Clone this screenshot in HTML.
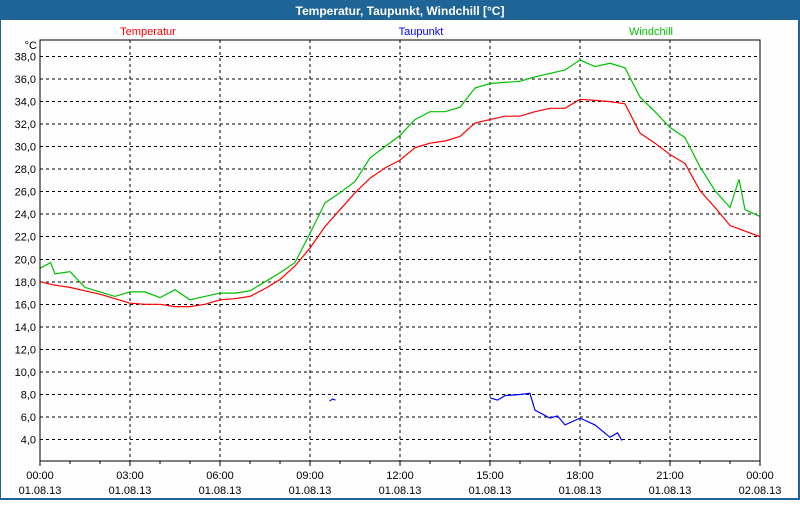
<!DOCTYPE html>
<html><head><meta charset="utf-8"><style>
body{margin:0;width:800px;height:500px;overflow:hidden;background:#fff;font-family:"Liberation Sans",sans-serif}
</style></head><body>
<svg id="c" width="800" height="500" xmlns="http://www.w3.org/2000/svg">
<rect x="0" y="0" width="800" height="500" fill="#1f6496"/>
<rect x="1" y="20" width="797" height="478" fill="#fdfefd"/>
<text x="400" y="15" text-anchor="middle" fill="#fff" font-weight="bold" font-size="12">Temperatur, Taupunkt, Windchill [°C]</text>
<text x="148" y="35" text-anchor="middle" fill="#ff0000" font-size="11">Temperatur</text>
<text x="421" y="35" text-anchor="middle" fill="#0000ff" font-size="11">Taupunkt</text>
<text x="651" y="35" text-anchor="middle" fill="#00c000" font-size="11">Windchill</text>
<text x="37" y="49" text-anchor="end" fill="#000" font-size="11">°C</text>
<g id="grid"></g><g id="series"></g><g id="axes"></g>
</svg>
<script>
const hours = [0,0.5,1,1.5,2,2.5,3,3.5,4,4.5,5,5.5,6,6.5,7,7.5,8,8.5,9,9.5,10,10.5,11,11.5,12,12.5,13,13.5,14,14.5,15,15.5,16,16.5,17,17.5,18,18.5,19,19.5,20,20.5,21,21.5,22,22.5,23,23.5,24];
const temperatur = [18.0,17.7,17.5,17.2,16.9,16.5,16.1,16.0,16.0,15.8,15.8,16.0,16.4,16.5,16.7,17.4,18.2,19.4,21.0,22.9,24.4,25.9,27.2,28.1,28.8,29.9,30.3,30.5,30.9,32.1,32.4,32.7,32.7,33.1,33.4,33.4,34.2,34.1,34.0,33.8,31.2,30.3,29.3,28.5,26.1,24.6,23.0,22.5,22.0];
const windchillHours = [0,0.35,0.5,1,1.5,2,2.5,3,3.5,4,4.5,5,5.5,6,6.5,7,7.5,8,8.5,9,9.5,10,10.5,11,11.5,12,12.5,13,13.5,14,14.5,15,15.5,16,16.5,17,17.5,18,18.5,19,19.5,20,20.5,21,21.5,22,22.5,23,23.3,23.5,24];
const windchill = [19.2,19.7,18.7,18.9,17.5,17.1,16.7,17.1,17.1,16.6,17.3,16.4,16.7,17.0,17.0,17.2,18.0,18.8,19.7,22.3,25.0,25.9,26.9,29.0,30.0,31.0,32.4,33.1,33.1,33.5,35.2,35.6,35.7,35.8,36.2,36.5,36.8,37.7,37.1,37.4,37.0,34.4,33.1,31.7,30.8,28.2,26.1,24.6,27.1,24.4,23.8];
const taupunktHours = [9.65,9.75,9.85,null,15.0,15.25,15.5,16.0,16.33,16.5,17.0,17.25,17.5,18.0,18.5,19.0,19.25,19.4];
const taupunkt = [7.4,7.6,7.5,null,7.7,7.5,7.9,8.0,8.1,6.6,5.9,6.1,5.3,5.9,5.3,4.2,4.6,3.9];
const yTicks = [38,36,34,32,30,28,26,24,22,20,18,16,14,12,10,8,6,4];
const xTickHours = [0,3,6,9,12,15,18,21,24];
const xTickTimes = ["00:00","03:00","06:00","09:00","12:00","15:00","18:00","21:00","00:00"];
const xTickDates = ["01.08.13","01.08.13","01.08.13","01.08.13","01.08.13","01.08.13","01.08.13","01.08.13","02.08.13"];

const L=40,R=760,T=40,B=461;
const X=h=>L+(R-L)*h/24;
const Y=v=>56.5+(38-v)*11.265;
const NS="http://www.w3.org/2000/svg";
function mk(tag,attrs,parent){const e=document.createElementNS(NS,tag);for(const k in attrs)e.setAttribute(k,attrs[k]);parent.appendChild(e);return e;}
const grid=document.getElementById('grid'),series=document.getElementById('series'),axes=document.getElementById('axes');
yTicks.forEach(v=>{
  const l=mk('line',{x1:L,x2:R,y1:Y(v),y2:Y(v),stroke:'#000','stroke-dasharray':'3,3','shape-rendering':'crispEdges'},grid);
  
  
  const t=mk('text',{x:36,y:Y(v)+4,'text-anchor':'end','font-size':11,fill:'#000'},axes);
  t.textContent=v.toFixed(1).replace('.',',');
  
  
});
xTickHours.forEach((h,i)=>{
  if(h>0&&h<24){const l=mk('line',{x1:X(h),x2:X(h),y1:T,y2:B,stroke:'#000','stroke-dasharray':'3,3','shape-rendering':'crispEdges'},grid);
  
  }
  const t1=mk('text',{x:X(h),y:479,'text-anchor':'middle','font-size':11,fill:'#000'},axes);
  t1.textContent=xTickTimes[i];
  
  
  const t2=mk('text',{x:X(h),y:494,'text-anchor':'middle','font-size':11,fill:'#000'},axes);
  t2.textContent=xTickDates[i];
  
  
});
for(let h=0;h<=24;h++){const tk=mk('line',{x1:X(h),x2:X(h),y1:B,y2:B+(h%3==0?5:3),stroke:'#000','shape-rendering':'crispEdges'},axes);
  
  }
const border=mk('rect',{x:L,y:T,width:R-L,height:B-T,fill:'none',stroke:'#000','shape-rendering':'crispEdges'},axes);


function line(hs,vs,color,name){
  let d='',pen=false;
  hs.forEach((h,i)=>{if(h===null||vs[i]===null){pen=false;return;}d+=(pen?'L':'M')+X(h).toFixed(1)+' '+Y(vs[i]).toFixed(1)+' ';pen=true;});
  const p=mk('path',{d:d,fill:'none',stroke:color,'stroke-width':1.2},series);
  
  
}
line(windchillHours,windchill,'#00c000','windchill-line');
line(hours,temperatur,'#ff0000','temperatur-line');
line(taupunktHours,taupunkt,'#0000ff','taupunkt-line');
</script>
</body></html>
